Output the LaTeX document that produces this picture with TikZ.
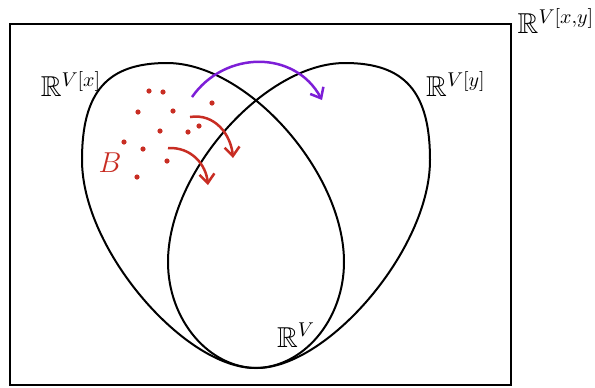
\documentclass[tikz,border=0pt]{standalone}
\usepackage{amssymb}
\usetikzlibrary{arrows.meta}
\definecolor{dotred}{RGB}{200,45,35}
\definecolor{arcpurple}{RGB}{125,30,215}
\tikzset{
  lobe line/.style={line width=1pt},
  move arrow/.style={line width=1.25pt, -{Straight Barb[length=4.5pt,width=7.5pt]}},
  space label/.style={font=\Large, inner sep=0pt},
  lobe/.pic={
    \draw[lobe line] (167,63)
      .. controls (247,63) and (344,172) .. (344,262)
      .. controls (344,320) and (303,368) .. (255,368)
      .. controls (185,368) and (82,250) .. (82,160)
      .. controls (82,92) and (107,63) .. cycle;
  },
}

\begin{document}
\begin{tikzpicture}[x=0.5pt, y=-0.5pt]
  \useasboundingbox (0,0) rectangle (595,387);
  \draw[line width=0.9pt] (10,24) rectangle (511,385);

  % the two lobes, mirrored
  \pic at (0,0) {lobe};
  \pic[xscale=-1] at (512,0) {lobe};

  \node[space label] (rxy) at (556,21) {$\mathbb{R}^{V[x,y]}$};
  \node[space label] (rx) at (71,84) {$\mathbb{R}^{V[x]}$};
  \node[space label] (ry) at (456,84) {$\mathbb{R}^{V[y]}$};
  \node[space label] (rv) at (296,335) {$\mathbb{R}^{V}$};
  \node[space label, text=dotred] (bset) at (110,163) {$B$};

  % points of B
  \foreach \p in {(149,91), (163,92), (212,103), (138,112), (173,111),
                  (160,131), (199,126), (188,132), (124,142), (143,149),
                  (167,161), (137,177)}
    \fill[dotred] \p circle (1.3pt);

  \coordinate (ra1) at (190,117);
  \coordinate (ra2) at (233,158);
  \coordinate (rb1) at (168,148);
  \coordinate (rb2) at (208,185);
  \coordinate (pa1) at (192,97);
  \coordinate (pa2) at (322,100);
  \draw[move arrow, dotred] (ra1) .. controls (215,113) and (231,135) .. (ra2);
  \draw[move arrow, dotred] (rb1) .. controls (192,147) and (206,165) .. (rb2);
  \draw[move arrow, arcpurple] (pa1) .. controls (225,50) and (295,50) .. (pa2);
\end{tikzpicture}
\end{document}
